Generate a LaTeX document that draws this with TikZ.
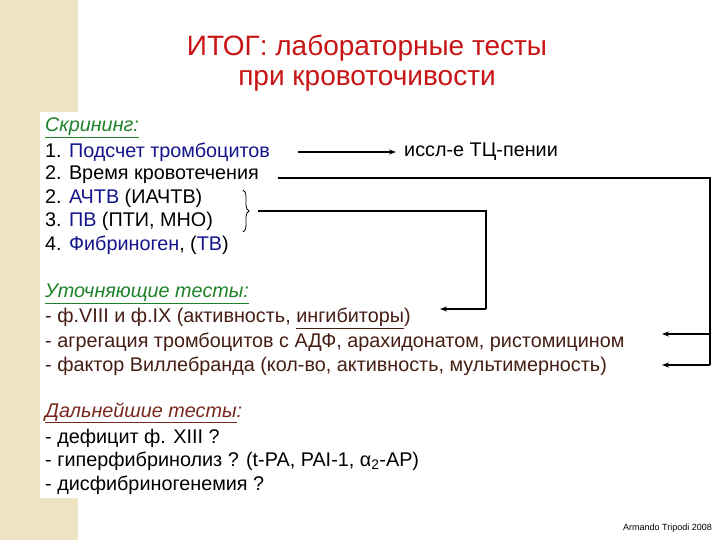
\documentclass[tikz,border=0pt]{standalone}
\usepackage{fontspec}
\setmainfont{Liberation Sans}
\usetikzlibrary{arrows.meta,decorations.pathreplacing}
\definecolor{beige}{RGB}{238,228,196}
\definecolor{ttl}{RGB}{200,20,20}
\definecolor{hd}{RGB}{30,130,40}
\definecolor{hd2}{RGB}{120,40,30}
\definecolor{bl}{RGB}{20,20,140}
\definecolor{br}{RGB}{70,30,20}
\begin{document}
\begin{tikzpicture}[x=1pt,y=-1pt,
 txt/.style={anchor=west,inner sep=0pt,font=\fontsize{19.8}{21}\selectfont},
 ttlst/.style={font=\fontsize{28}{30}\selectfont,text=ttl,inner sep=0pt},
 con/.style={line width=1.1pt},
 arr/.style={con,-{Stealth[length=7pt,width=5pt]}}]
\useasboundingbox (0,0) rectangle (720,540);
\fill[white] (0,0) rectangle (720,540);
\fill[beige] (0,0) rectangle (78,540);
\fill[white] (40,112) rectangle (690,498);
\node[ttlst] (t1) at (367,48) {ИТОГ: лабораторные тесты};
\node[ttlst] (t2) at (367,81) {при кровоточивости};
\node[txt,text=hd] (h1) at (45,128) {\textit{\underline{Скрининг:}}};
\node[txt] (s1) at (45,152) {1. \textcolor{bl}{Подсчет тромбоцитов}};
\node[txt] (s1b) at (404,152) {иссл-е ТЦ-пении};
\node[txt] (s2) at (45,175) {2. Время кровотечения};
\node[txt] (s3) at (45,198) {2. \textcolor{bl}{АЧТВ} (ИАЧТВ)};
\node[txt] (s4) at (45,221) {3. \textcolor{bl}{ПВ} (ПТИ, МНО)};
\node[txt] (s5) at (45,245) {4. \textcolor{bl}{Фибриноген}, (\textcolor{bl}{ТВ})};
\node[txt,text=hd] (h2) at (45,294) {\textit{\underline{Уточняющие тесты:}}};
\node[txt,text=br] (u1) at (45,318) {- ф.VIII и ф.IX (активность, \underline{ингибиторы})};
\node[txt,text=br] (u2) at (45,342) {- агрегация тромбоцитов с АДФ, арахидонатом, ристомицином};
\node[txt,text=br] (u3) at (45,366) {- фактор Виллебранда (кол-во, активность, мультимерность)};
\node[txt,text=hd2] (h3) at (45,413) {\textit{\underline{Дальнейшие тесты}:}};
\node[txt] (d1) at (45,438) {- дефицит ф. XIII ?};
\node[txt] (d2) at (45,461) {- гиперфибринолиз ? (t-PA, PAI-1, α\textsubscript{2}-AP)};
\node[txt] (d3) at (45,485) {- дисфибриногенемия ?};
\node[anchor=east,inner sep=0pt,font=\fontsize{9}{10}\selectfont] (ft) at (712,528) {Armando Tripodi 2008};
\coordinate (a1) at (298,152);
\draw[arr] (a1) -- (s1b.west -| 396,152);
\coordinate (b0) at (278,178);
\coordinate (b1) at (710,178);
\coordinate (b2) at (710,334);
\coordinate (b3) at (710,365);
\draw[con] (b0) -- (b1) -- (b3);
\draw[arr] (b2) -- (662,334);
\draw[arr] (b3) -- (662,365);
\draw[thick,decorate,decoration={brace,amplitude=6pt}] (243,190) -- (243,232);
\coordinate (c0) at (258,211);
\coordinate (c1) at (486,211);
\coordinate (c2) at (486,309);
\draw[con] (c0) -- (c1) -- (c2);
\draw[arr] (c2) -- (440,309);
\end{tikzpicture}
\end{document}
